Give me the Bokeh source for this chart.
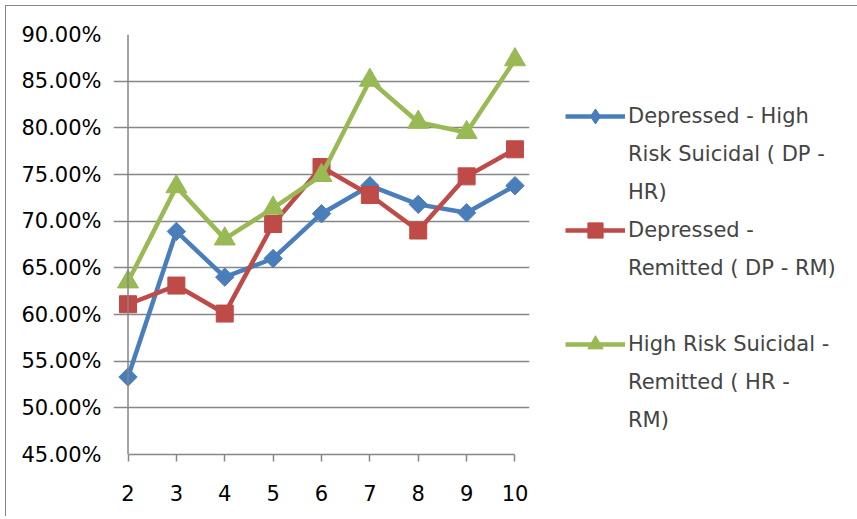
import numpy as np
from bokeh.plotting import figure
from bokeh.models import (Legend, LegendItem, FixedTicker, NumeralTickFormatter,
                          Range1d, ColumnDataSource, Span)
from bokeh.embed import file_html
from bokeh.resources import INLINE

x_vals = [2, 3, 4, 5, 6, 7, 8, 9, 10]
dp_hr = [0.533, 0.689, 0.640, 0.660, 0.708, 0.738, 0.718, 0.709, 0.738]
dp_rm = [0.611, 0.631, 0.601, 0.697, 0.758, 0.728, 0.690, 0.748, 0.777]
hr_rm = [0.635, 0.737, 0.681, 0.714, 0.749, 0.851, 0.806, 0.795, 0.873]
y_ticks = [0.45, 0.50, 0.55, 0.60, 0.65, 0.70, 0.75, 0.80, 0.85, 0.90]
labels = ["Depressed - High\nRisk Suicidal ( DP -\nHR)",
          "Depressed -\nRemitted ( DP - RM)",
          "High Risk Suicidal -\nRemitted ( HR -\nRM)"]

FONT = "DejaVu Sans"
GRID = "#868686"
blue, red, green = "#4A7EBB", "#BE4B48", "#98B954"

INNER_W = 387          # px between first and last category
PAD = 0.3              # x padding (data units) so edge markers are not clipped
ppu = INNER_W / (x_vals[-1] - x_vals[0])
frame_w = int(round(INNER_W + 2 * PAD * ppu))
LEFT = 107

p = figure(frame_width=frame_w, frame_height=420, min_border_left=LEFT, min_border_top=28,
           min_border_right=849 - LEFT - frame_w, min_border_bottom=62,
           x_range=Range1d(x_vals[0] - PAD, x_vals[-1] + PAD),
           y_range=Range1d(y_ticks[0], y_ticks[-1]),
           output_backend="svg", toolbar_location=None, tools="")
p.styles = {"margin-left": "5px", "margin-top": "5px",
            "border-left": "1px solid #868686", "border-top": "1px solid #868686"}
p.outline_line_color = None
p.background_fill_color = "white"
p.border_fill_color = "white"

TICK = 7
p.xgrid.visible = False
p.ygrid.grid_line_color = GRID
p.ygrid.grid_line_width = 1.5
p.ygrid.ticker = FixedTicker(ticks=y_ticks)
p.ygrid.bounds = (x_vals[0] - TICK / ppu, x_vals[-1])

p.add_layout(Span(location=x_vals[0], dimension="height", line_color=GRID, line_width=1.5))

p.yaxis.ticker = FixedTicker(ticks=y_ticks)
p.yaxis.formatter = NumeralTickFormatter(format="0.00%")
p.yaxis.axis_line_color = None
p.yaxis.major_tick_line_color = None
p.yaxis.major_tick_out = 0
p.yaxis.major_tick_in = 0
p.yaxis.major_label_standoff = 12

p.xaxis.ticker = FixedTicker(ticks=x_vals)
p.xaxis.bounds = (x_vals[0], x_vals[-1])
p.xaxis.axis_line_color = GRID
p.xaxis.axis_line_width = 1.5
p.xaxis.major_tick_line_color = GRID
p.xaxis.major_tick_line_width = 1.5
p.xaxis.major_tick_out = TICK
p.xaxis.major_tick_in = 0
p.xaxis.major_label_standoff = 23
for ax in (p.xaxis[0], p.yaxis[0]):
    ax.minor_tick_line_color = None
    ax.major_label_text_font = FONT
    ax.major_label_text_font_size = "21px"
    ax.major_label_text_color = "#000000"

src = ColumnDataSource(dict(x=x_vals, a=dp_hr, b=dp_rm, c=hr_rm))
l1 = p.line("x", "a", source=src, line_color=blue, line_width=4.5)
# diamond drawn inside the rotated squares; it serves as the legend swatch
m1_key = p.scatter("x", "a", source=src, marker="diamond", size=16,
                   fill_color=blue, line_color=blue)
m1 = p.scatter("x", "a", source=src, marker="square", angle=np.pi / 4, size=13,
               fill_color=blue, line_color=blue)
l2 = p.line("x", "b", source=src, line_color=red, line_width=4.5)
m2 = p.scatter("x", "b", source=src, marker="square", size=17,
               fill_color=red, line_color=red)
l3 = p.line("x", "c", source=src, line_color=green, line_width=4.5)
m3 = p.scatter("x", "c", source=src, marker="triangle", size=21,
               fill_color=green, line_color=green)

series = [(labels[0], [l1, m1_key], 0), (labels[1], [l2, m2], 1), (labels[2], [l3, m3], 0)]
items = []
for text, rends, blank_after in series:
    lines = text.split("\n")
    items.append(LegendItem(label=lines[0], renderers=rends))
    for ln in lines[1:]:
        items.append(LegendItem(label=ln, renderers=[]))
    for _ in range(blank_after):
        items.append(LegendItem(label=" ", renderers=[]))

legend = Legend(items=items, location=(36, 15), padding=0, margin=0, spacing=0,
                glyph_width=60, glyph_height=38, label_standoff=3,
                label_text_font=FONT, label_text_font_size="21px",
                background_fill_alpha=0, border_line_alpha=0)
p.add_layout(legend, "right")

open("out.html", "w").write(file_html(p, INLINE))
